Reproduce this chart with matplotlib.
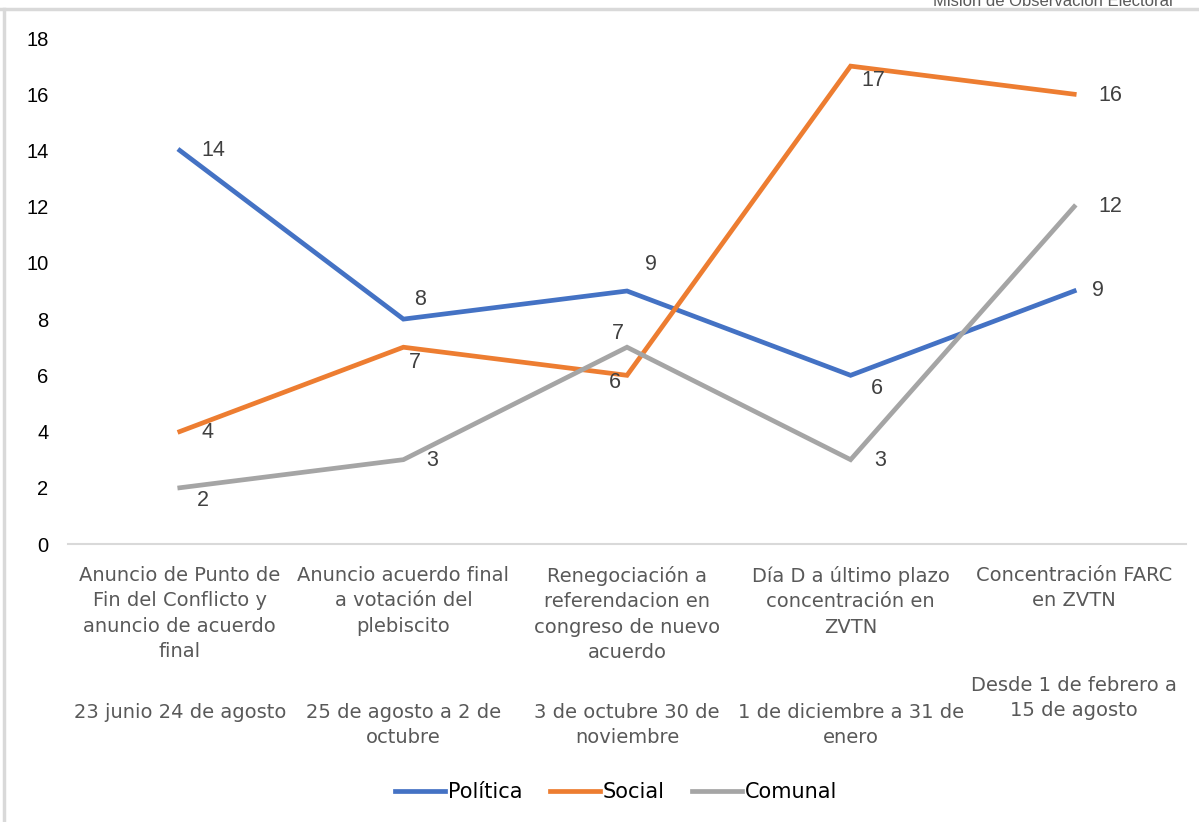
import numpy as np
import matplotlib.pyplot as plt
from matplotlib.lines import Line2D
import matplotlib.transforms as mtransforms

# data
categories = ['Anuncio de Punto de\nFin del Conflicto y\nanuncio de acuerdo\nfinal',
              'Anuncio acuerdo final\na votación del\nplebiscito',
              'Renegociación a\nreferendacion en\ncongreso de nuevo\nacuerdo',
              'Día D a último plazo\nconcentración en\nZVTN',
              'Concentración FARC\nen ZVTN']
periods = ['23 junio 24 de agosto',
           '25 de agosto a 2 de\noctubre',
           '3 de octubre 30 de\nnoviembre',
           '1 de diciembre a 31 de\nenero',
           'Desde 1 de febrero a\n15 de agosto']
politica = [14, 8, 9, 6, 9]
social = [4, 7, 6, 17, 16]
comunal = [2, 3, 7, 3, 12]

c_pol = '#4472C4'
c_soc = '#ED7D31'
c_com = '#A5A5A5'

fig = plt.figure(figsize=(11.99, 8.22), dpi=100)
ax = fig.add_axes([68/1199, 1 - 544/822, (1186 - 68)/1199, (544 - 38)/822])

x = np.arange(len(categories))
ax.plot(x, politica, color=c_pol, lw=3.4, solid_joinstyle='miter')
ax.plot(x, social, color=c_soc, lw=3.4, solid_joinstyle='miter')
ax.plot(x, comunal, color=c_com, lw=3.4, solid_joinstyle='miter')

ax.set_xlim(-0.5, len(categories) - 0.5)
ax.set_ylim(0, 18)
ax.set_yticks(np.arange(0, 19, 2))
ax.set_xticks([])
ax.tick_params(axis='y', length=0, pad=14, labelsize=14.5, labelcolor='black')
for lbl in ax.get_yticklabels():
    lbl.set_family('Liberation Sans')
for s in ['top', 'right', 'left']:
    ax.spines[s].set_visible(False)
ax.spines['bottom'].set_color('#D9D9D9')
ax.spines['bottom'].set_linewidth(1.5)

# data labels (offsets in pixels)
offs_pol = [(34, 0), (17, 20), (24, 27), (26, -13), (24, 0)]
offs_soc = [(28, -1), (11, -15), (-12, -7), (23, -14), (36, -1)]
offs_com = [(23, -13), (29, -1), (-9, 14), (30, -1), (36, 0)]
for vals, offs in [(politica, offs_pol), (social, offs_soc), (comunal, offs_com)]:
    for i, v in enumerate(vals):
        ax.annotate(str(v), (x[i], v), xytext=offs[i], textcoords='offset pixels',
                    ha='center', va='center', fontsize=15.5, color='#404040',
                    family='Liberation Sans')

# category labels
trans = mtransforms.blended_transform_factory(ax.transData, ax.transAxes)
ah = 544 - 38
for i in range(len(categories)):
    ax.text(x[i], (544 - 566) / ah, categories[i], transform=trans, ha='center',
            va='top', fontsize=14, color='#595959', linespacing=1.42,
            family='DejaVu Sans')
    top = 703 if i < 4 else 676
    ax.text(x[i], (544 - top) / ah, periods[i], transform=trans, ha='center',
            va='top', fontsize=14, color='#595959', linespacing=1.42,
            family='DejaVu Sans')

# legend
handles = [Line2D([], [], color=c, lw=3.4) for c in [c_pol, c_soc, c_com]]
leg = fig.legend(handles, ['Política', 'Social', 'Comunal'], loc='center',
                 bbox_to_anchor=(616/1199, 1 - 792/822), ncol=3, frameon=False,
                 fontsize=15, handlelength=2.4, handletextpad=0.15, columnspacing=1.3)
for t in leg.get_texts():
    t.set_color('#000000')

# frame bits from the original screenshot
fig.add_artist(Line2D([0, 1], [1 - 9/822, 1 - 9/822], color='#D9D9D9', lw=2.5))
fig.add_artist(Line2D([4/1199, 4/1199], [0, 1 - 9/822], color='#D9D9D9', lw=2.5))
fig.text(1053/1199, 1 - 1/822, 'Misión de Observación Electoral', ha='center',
         va='center', fontsize=12, color='#595959', family='Liberation Sans')

fig.savefig('out.png', dpi=100)
